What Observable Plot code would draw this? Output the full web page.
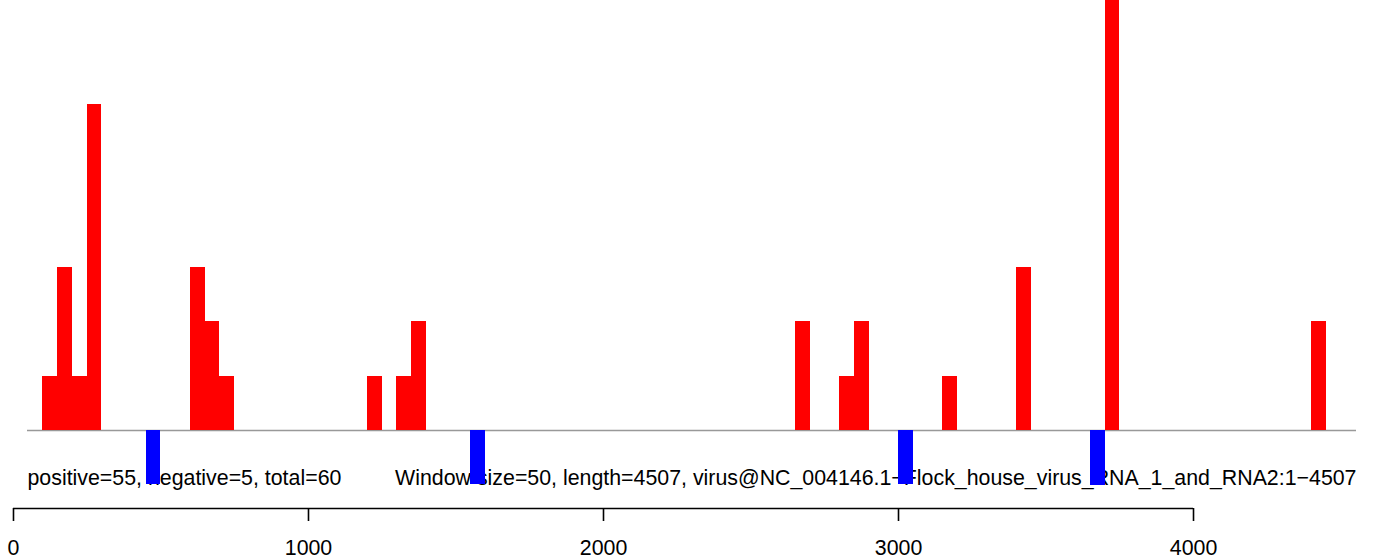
<!DOCTYPE html>
<html>
<head>
<meta charset="utf-8">
<script src="https://cdn.jsdelivr.net/npm/d3@7"></script>
<script src="https://cdn.jsdelivr.net/npm/@observablehq/plot@0.6"></script>
<style>
  html, body { margin: 0; padding: 0; background: #fff; }
  #chart svg { display: block; }
</style>
</head>
<body>
<div id="chart"></div>
<script>
// ---- data ----
const windowSize = 50;
const seqLength = 4507;
const posStart = [100, 150, 200, 250, 600, 650, 700, 1200, 1300, 1350, 2650, 2800, 2850, 3150, 3400, 3700, 4400];
const posCount = [1, 3, 1, 6, 3, 2, 1, 1, 1, 2, 2, 1, 2, 1, 3, 23, 2];
const negStart = [450, 1550, 3000, 3650];
const negCount = [1, 1, 1, 2];
const xTicks = [0, 1000, 2000, 3000, 4000];
const leftLabel = "positive=55, negative=5, total=60";
const rightLabel = "Window size=50, length=4507, virus@NC_004146.1\u2212Flock_house_virus_RNA_1_and_RNA2:1\u22124507";

const pos = posStart.map((s, i) => ({x1: s, x2: s + windowSize, y: posCount[i]}));
const neg = negStart.map((s, i) => ({x1: s, x2: s + windowSize, y: -negCount[i]}));

const W = 1379, H = 559;
const xDomain = [47.5, 4552.5];
const yDomain = [-1.012, 7.914];
const FS = 21.35;

const chart = Plot.plot({
  width: W,
  height: H,
  marginLeft: 27,
  marginRight: 23,
  marginTop: 0,
  marginBottom: 74,
  style: {fontFamily: "'Liberation Sans', Arial, sans-serif", fontSize: FS + "px", background: "#fff", color: "#000", overflow: "hidden"},
  x: {domain: xDomain, axis: null},
  y: {domain: yDomain, axis: null},
  marks: [
    Plot.ruleY([0], {stroke: "#999", strokeWidth: 1.5}),
    Plot.text([leftLabel], {text: d => d, frameAnchor: "bottom-left", textAnchor: "start", lineAnchor: "middle", dy: -7.7, fill: "#000", fontSize: FS}),
    Plot.text([rightLabel], {text: d => d, frameAnchor: "bottom-right", textAnchor: "end", lineAnchor: "middle", dy: -7.7, fill: "#000", fontSize: FS}),
    Plot.rectY(pos, {x1: "x1", x2: "x2", y1: 0, y2: "y", fill: "#ff0000", inset: 0, clip: true, shapeRendering: "crispEdges"}),
    Plot.rectY(neg, {x1: "x1", x2: "x2", y1: 0, y2: "y", fill: "#0000ff", inset: 0, clip: true, shapeRendering: "crispEdges"}),
    Plot.ruleY([yDomain[0]], {x1: xTicks[0], x2: xTicks[xTicks.length - 1], dy: 23, stroke: "#000", strokeWidth: 1.6}),
    Plot.axisX(xTicks, {anchor: "bottom", tickSize: 13, tickPadding: 18, dy: 23, tickFormat: d => String(d), label: null, stroke: "#000", strokeWidth: 1.6, fill: "#000", fontSize: FS})
  ]
});
document.getElementById("chart").appendChild(chart);
</script>
</body>
</html>
